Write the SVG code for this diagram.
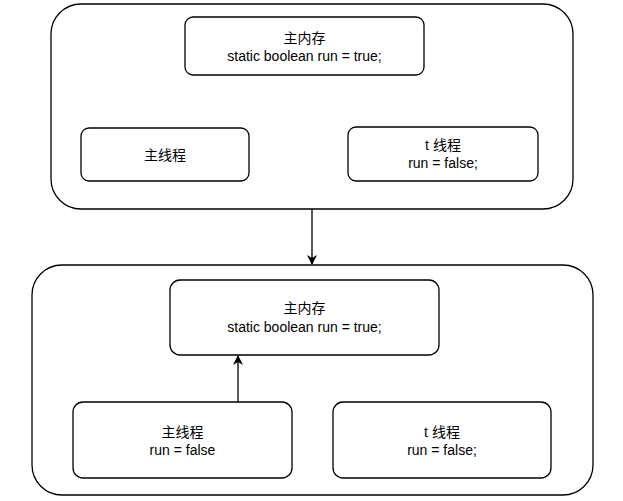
<svg xmlns="http://www.w3.org/2000/svg" width="623" height="501" viewBox="0 0 623 501">
<style>
.box{fill:#fff;stroke:#000;stroke-width:1.3}
.t{font-family:"Liberation Sans","Noto Sans CJK SC",sans-serif;font-size:14px;fill:#000;text-anchor:middle}
.c{stroke:#000;stroke-width:1.3;fill:none}
</style>
<defs>
<marker id="ah" viewBox="0 0 10 10" refX="9" refY="5" markerWidth="10" markerHeight="10" markerUnits="userSpaceOnUse" orient="auto">
<path d="M0,0 L10,5 L0,10 L3,5 Z" fill="#000"/>
</marker>
</defs>
<g id="top-container"><rect class="box" x="51" y="4" width="522" height="205" rx="30"/></g>
<g id="top-memory"><rect class="box" x="185" y="17" width="239" height="58" rx="8"/>
<text class="t" x="304.5" y="43">主内存</text><text class="t" x="304.5" y="61">static boolean run = true;</text></g>
<g id="top-main-thread"><rect class="box" x="81" y="128" width="168" height="53" rx="8"/>
<text class="t" x="165" y="160">主线程</text></g>
<g id="top-t-thread"><rect class="box" x="348" y="127" width="190" height="54" rx="8"/>
<text class="t" x="443" y="150">t 线程</text><text class="t" x="443" y="168">run = false;</text></g>
<g id="bottom-container"><rect class="box" x="32" y="265" width="561" height="230" rx="30"/></g>
<g id="bottom-memory"><rect class="box" x="170" y="280" width="269" height="75" rx="10"/>
<text class="t" x="304.5" y="313">主内存</text><text class="t" x="304.5" y="332">static boolean run = true;</text></g>
<g id="bottom-main-thread"><rect class="box" x="73" y="402" width="219" height="76" rx="10"/>
<text class="t" x="182.5" y="437">主线程</text><text class="t" x="182.5" y="455">run = false</text></g>
<g id="bottom-t-thread"><rect class="box" x="333" y="402" width="218" height="76" rx="10"/>
<text class="t" x="442" y="437">t 线程</text><text class="t" x="442" y="455">run = false;</text></g>
<g id="connectors">
<line class="c" x1="312" y1="209" x2="312" y2="264" marker-end="url(#ah)"/>
<line class="c" x1="238" y1="402" x2="238" y2="356" marker-end="url(#ah)"/>
</g>
</svg>
